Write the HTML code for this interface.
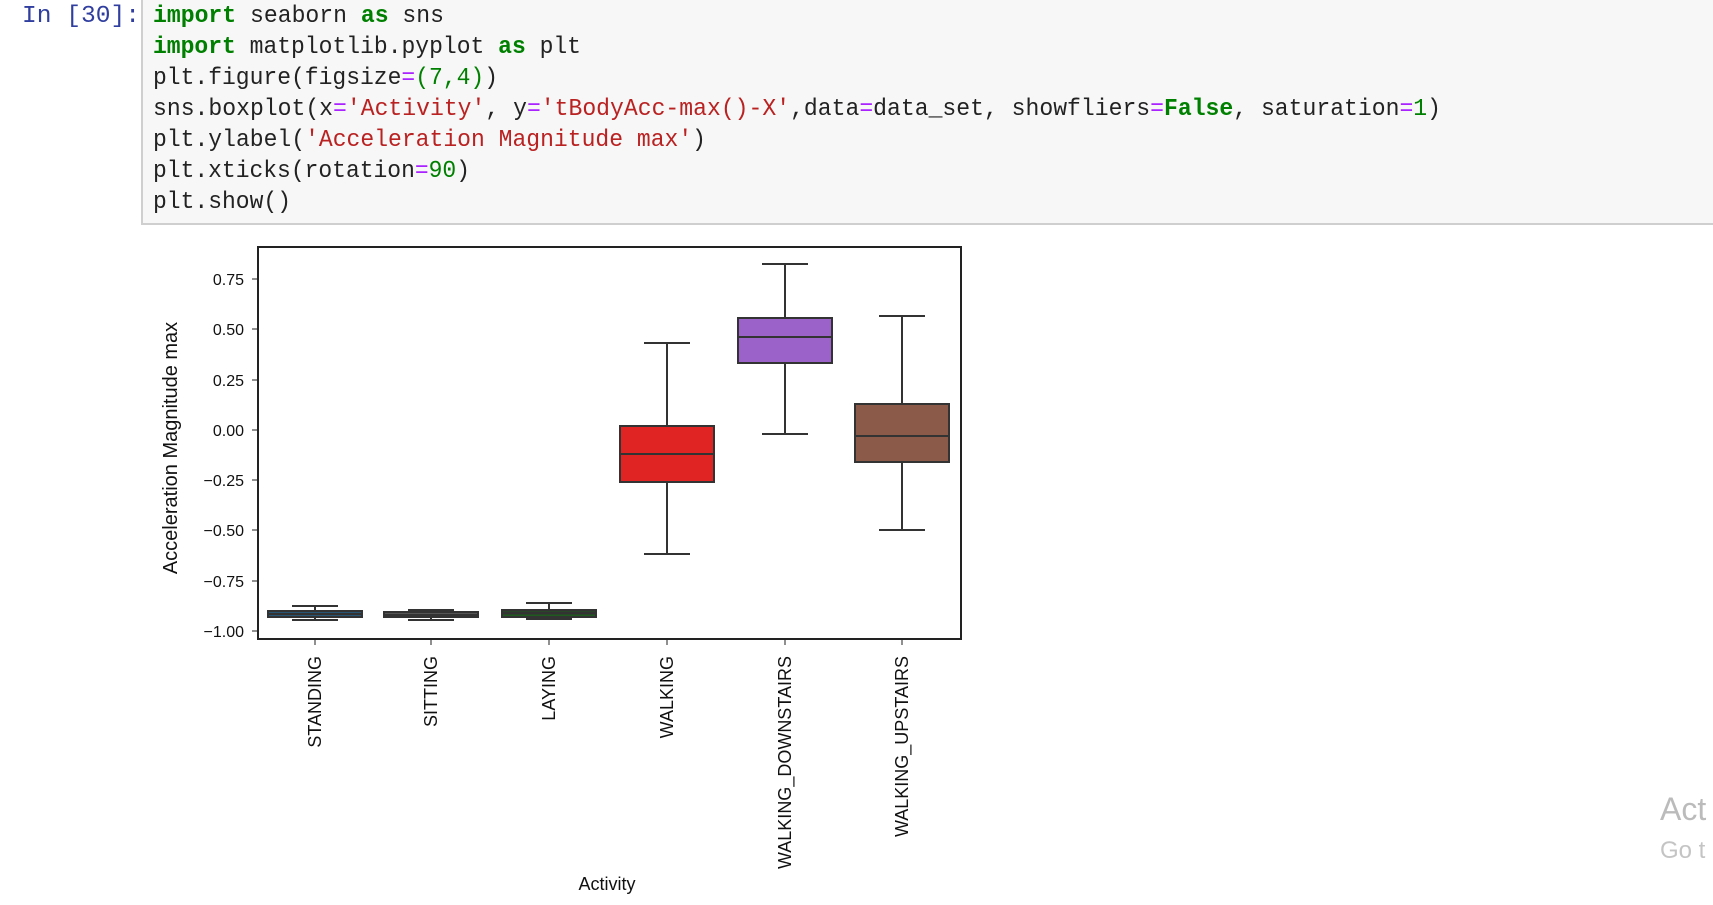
<!DOCTYPE html>
<html><head><meta charset="utf-8"><style>
html,body{margin:0;padding:0;background:#fff;width:1713px;height:905px;overflow:hidden;}
</style></head><body>
<svg width="1713" height="905" xmlns="http://www.w3.org/2000/svg" style="position:absolute;left:0;top:0">
<rect x="142" y="-2" width="1575" height="226" fill="#f7f7f7" stroke="#cfcfcf" stroke-width="2"/>
<g font-family="Liberation Mono, monospace" font-size="24" lengthAdjust="spacingAndGlyphs">
<text x="22" y="22" fill="#303f9f" textLength="118" lengthAdjust="spacingAndGlyphs">In [30]:</text>
<text x="153" y="22" textLength="291" lengthAdjust="spacingAndGlyphs"><tspan fill="#008000" font-weight="bold">import</tspan><tspan fill="#222"> seaborn </tspan><tspan fill="#008000" font-weight="bold">as</tspan><tspan fill="#222"> sns</tspan></text>
<text x="153" y="53" textLength="428" lengthAdjust="spacingAndGlyphs"><tspan fill="#008000" font-weight="bold">import</tspan><tspan fill="#222"> matplotlib.pyplot </tspan><tspan fill="#008000" font-weight="bold">as</tspan><tspan fill="#222"> plt</tspan></text>
<text x="153" y="84" fill="#222" textLength="345" lengthAdjust="spacingAndGlyphs">plt.figure(figsize<tspan fill="#aa22ff">=</tspan><tspan fill="#008000">(7,4)</tspan>)</text>
<text x="153" y="115" fill="#222" textLength="1288" lengthAdjust="spacingAndGlyphs">sns.boxplot(x<tspan fill="#aa22ff">=</tspan><tspan fill="#ba2121">'Activity'</tspan>, y<tspan fill="#aa22ff">=</tspan><tspan fill="#ba2121">'tBodyAcc-max()-X'</tspan>,data<tspan fill="#aa22ff">=</tspan>data_set, showfliers<tspan fill="#aa22ff">=</tspan><tspan fill="#008000" font-weight="bold">False</tspan>, saturation<tspan fill="#aa22ff">=</tspan><tspan fill="#008000">1</tspan>)</text>
<text x="153" y="146" fill="#222" textLength="553" lengthAdjust="spacingAndGlyphs">plt.ylabel(<tspan fill="#ba2121">'Acceleration Magnitude max'</tspan>)</text>
<text x="153" y="177" fill="#222" textLength="317" lengthAdjust="spacingAndGlyphs">plt.xticks(rotation<tspan fill="#aa22ff">=</tspan><tspan fill="#008000">90</tspan>)</text>
<text x="153" y="208" fill="#222" textLength="138" lengthAdjust="spacingAndGlyphs">plt.show()</text>
</g>
<rect x="258" y="247" width="703" height="392" fill="#fff" stroke="#222" stroke-width="2"/>
<g font-family="Liberation Sans, sans-serif" font-size="16" fill="#111" text-anchor="end">
<text x="244" y="285">0.75</text><line x1="252" y1="279" x2="258" y2="279" stroke="#222"/>
<text x="244" y="335">0.50</text><line x1="252" y1="329" x2="258" y2="329" stroke="#222"/>
<text x="244" y="386">0.25</text><line x1="252" y1="380" x2="258" y2="380" stroke="#222"/>
<text x="244" y="436">0.00</text><line x1="252" y1="430" x2="258" y2="430" stroke="#222"/>
<text x="244" y="486">−0.25</text><line x1="252" y1="480" x2="258" y2="480" stroke="#222"/>
<text x="244" y="536">−0.50</text><line x1="252" y1="530" x2="258" y2="530" stroke="#222"/>
<text x="244" y="587">−0.75</text><line x1="252" y1="581" x2="258" y2="581" stroke="#222"/>
<text x="244" y="637">−1.00</text><line x1="252" y1="631" x2="258" y2="631" stroke="#222"/>
</g>
<text transform="translate(177,448) rotate(-90)" font-family="Liberation Sans, sans-serif" font-size="20" text-anchor="middle" fill="#111">Acceleration Magnitude max</text>
<g stroke="#333" stroke-width="2">
<line x1="315" y1="606" x2="315" y2="620"/><line x1="292" y1="606" x2="338" y2="606"/><line x1="292" y1="620" x2="338" y2="620"/>
<rect x="268" y="611" width="94" height="6" fill="#1f77b4"/><line x1="268" y1="614" x2="362" y2="614" stroke-width="3"/>
<line x1="431" y1="610" x2="431" y2="620"/><line x1="408" y1="610" x2="454" y2="610"/><line x1="408" y1="620" x2="454" y2="620"/>
<rect x="384" y="612" width="94" height="5" fill="#777"/><line x1="384" y1="615" x2="478" y2="615" stroke-width="3"/>
<line x1="549" y1="603" x2="549" y2="619"/><line x1="526" y1="603" x2="572" y2="603"/><line x1="526" y1="619" x2="572" y2="619"/>
<rect x="502" y="610" width="94" height="7" fill="#1f5a1f"/><line x1="502" y1="613" x2="596" y2="613" stroke-width="3"/>
<line x1="667" y1="343" x2="667" y2="426"/><line x1="667" y1="482" x2="667" y2="554"/>
<line x1="644" y1="343" x2="690" y2="343"/><line x1="644" y1="554" x2="690" y2="554"/>
<rect x="620" y="426" width="94" height="56" fill="#e02424"/><line x1="620" y1="454" x2="714" y2="454"/>
<line x1="785" y1="264" x2="785" y2="318"/><line x1="785" y1="363" x2="785" y2="434"/>
<line x1="762" y1="264" x2="808" y2="264"/><line x1="762" y1="434" x2="808" y2="434"/>
<rect x="738" y="318" width="94" height="45" fill="#9b62c9"/><line x1="738" y1="337" x2="832" y2="337"/>
<line x1="902" y1="316" x2="902" y2="404"/><line x1="902" y1="462" x2="902" y2="530"/>
<line x1="879" y1="316" x2="925" y2="316"/><line x1="879" y1="530" x2="925" y2="530"/>
<rect x="855" y="404" width="94" height="58" fill="#8c5a48"/><line x1="855" y1="436" x2="949" y2="436"/>
</g>
<g stroke="#222"><line x1="315" y1="639" x2="315" y2="645"/><line x1="431" y1="639" x2="431" y2="645"/><line x1="549" y1="639" x2="549" y2="645"/><line x1="667" y1="639" x2="667" y2="645"/><line x1="785" y1="639" x2="785" y2="645"/><line x1="902" y1="639" x2="902" y2="645"/></g>
<g font-family="Liberation Sans, sans-serif" font-size="18" fill="#111" text-anchor="end">
<text transform="translate(321,656) rotate(-90)">STANDING</text>
<text transform="translate(437,656) rotate(-90)">SITTING</text>
<text transform="translate(555,656) rotate(-90)">LAYING</text>
<text transform="translate(673,656) rotate(-90)">WALKING</text>
<text transform="translate(791,656) rotate(-90)">WALKING_DOWNSTAIRS</text>
<text transform="translate(908,656) rotate(-90)">WALKING_UPSTAIRS</text>
</g>
<text x="607" y="890" font-family="Liberation Sans, sans-serif" font-size="18" text-anchor="middle" fill="#111">Activity</text>
<text x="1660" y="820" font-family="Liberation Sans, sans-serif" font-size="32" fill="#bbb">Act</text>
<text x="1660" y="858" font-family="Liberation Sans, sans-serif" font-size="24" fill="#c4c4c4">Go t</text>
</svg>
</body></html>
